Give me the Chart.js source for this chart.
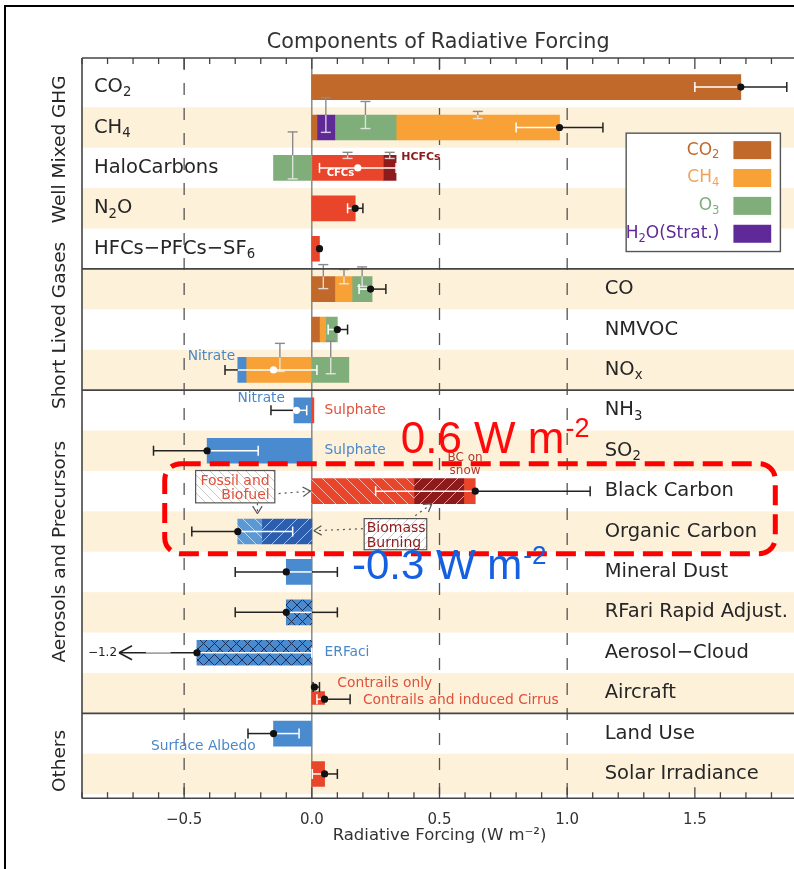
<!DOCTYPE html>
<html><head><meta charset="utf-8">
<script src="https://cdn.jsdelivr.net/npm/chart.js@4.4.1/dist/chart.umd.min.js"></script>
<style>
html,body{margin:0;padding:0;overflow:hidden;background:#fff;width:794px;height:869px}
#wrap{position:absolute;left:0;top:0;width:810px;height:869px}
#frame{position:absolute;left:4px;top:5px;width:820px;height:900px;border-left:2px solid #000;border-top:2px solid #000;pointer-events:none}
</style></head><body>
<div id="wrap"><canvas id="c" width="810" height="869" style="width:810px;height:869px"></canvas></div>
<div id="frame"></div>
<script>
// ---------------- DATA ----------------
const chartTitle = 'Components of Radiative Forcing';
const rowLabels = ['CO_2','CH_4','HaloCarbons','N_2O','HFCs\u2212PFCs\u2212SF_6','CO','NMVOC','NO_x','NH_3','SO_2',
  'Black Carbon','Organic Carbon','Mineral Dust','RFari Rapid Adjust.','Aerosol\u2212Cloud','Aircraft','Land Use','Solar Irradiance'];
const groupNames = ['Well Mixed GHG','Short Lived Gases','Aerosols and Precursors','Others'];
const groupFirstRow = [0,5,8,16];
const groupLastRow = [4,7,15,17];
const xTickAt = [-0.5,0,0.5,1.0,1.5];
const xTickLabels = ['\u22120.5','0.0','0.5','1.0','1.5'];

// component bars: rows and [start,end] in W m-2
const co2Rows = [0,1,5,6];
const co2Bars = [[0,1.68],[0,0.02],[0,0.09],[0,0.03]];
const h2oRows = [1];
const h2oBars = [[0.02,0.09]];
const o3Rows = [1,2,5,6,7];
const o3Bars = [[0.09,0.33],[-0.15,0],[0.16,0.236],[0.057,0.10],[0,0.145]];
const ch4Rows = [1,5,6,7];
const ch4Bars = [[0.33,0.97],[0.09,0.16],[0.03,0.057],[-0.255,0]];
const redRows = [2,3,4,8,17];
const redBars = [[0,0.28],[0,0.17],[0,0.03],[0,0.008],[0,0.05]];
const hcfcRows = [2];
const hcfcBars = [[0.28,0.33]];
const blueRows = [7,8,9,12,16];
const blueBars = [[-0.29,-0.255],[-0.07,0],[-0.41,0],[-0.10,0],[-0.15,0]];
const bcFossilRows = [10], bcFossilBars = [[0,0.40]];
const bcBiomassRows = [10], bcBiomassBars = [[0.40,0.595]];
const bcSnowRows = [10], bcSnowBars = [[0.595,0.64]];
const ocFossilRows = [11], ocFossilBars = [[-0.29,-0.196]];
const ocBiomassRows = [11], ocBiomassBars = [[-0.196,0]];
const erfRows = [13,14];
const erfBars = [[-0.10,0],[-0.45,0]];
const aircraftRows = [15];
const aircraftBars = [[0,0.05]];

// totals: best estimate and uncertainty range
const totalRows = [0,1,2,3,4,5,6,7,8,9,10,11,12,13,14,15,15,16,17];
const totalBest = [1.68,0.97,0.18,0.17,0.03,0.23,0.10,-0.15,-0.06,-0.41,0.64,-0.29,-0.10,-0.10,-0.45,0.01,0.05,-0.15,0.05];
const totalLow  = [1.50,0.80,0.03,0.14,0.027,0.185,0.064,-0.34,-0.16,-0.62,0.25,-0.47,-0.30,-0.30,-1.2,0.005,0.02,-0.25,0.002];
const totalHigh = [1.86,1.14,0.33,0.20,0.033,0.29,0.14,0.02,-0.02,-0.21,1.09,-0.075,0.10,0.10,0,0.03,0.15,-0.05,0.10];
const whiteDotRows = [2,7,8];

// component uncertainties
const compRows = [1,1,1,2,2,2,5,5,5,7,7];
const compAt   = [0.055,0.21,0.65,-0.075,0.14,0.305,0.045,0.126,0.197,-0.125,0.074];
const compUnc  = [0.068,0.053,0.014,0.092,0.012,0.012,0.047,0.028,0.038,0.055,0.064];

const legendLabels = ['CO_2','CH_4','O_3','H_2O(Strat.)'];

// ---------------- STYLE / LAYOUT ----------------
const FONT = "'DejaVu Sans', sans-serif";
const C = {co2:'#c0692b', ch4:'#f7a136', o3:'#7fae7b', h2o:'#5f2a97', red:'#e9452b', dred:'#8e1b1c',
  blue:'#4a8bd0', lblue:'#5a98d6', dblue:'#2c5ead', band:'#fdf1da', text:'#262626'};
const legendText = ['#c0692b','#f0a457','#7fae7b','#5f2a97'];
const legendSwatch = [C.co2, C.ch4, C.o3, C.h2o];
const dotShift = totalRows.map((r,i)=> i===15 ? -0.15 : (i===16 ? 0.15 : 0));
const groupCenter = [1.54, 5.9, 11.5, 16.68];

const ctx0 = document.getElementById('c').getContext('2d');
function hatch(base, line, dir, size, lw){
  const c = document.createElement('canvas'); c.width = c.height = size;
  const g = c.getContext('2d');
  g.fillStyle = base; g.fillRect(0,0,size,size);
  g.strokeStyle = line; g.lineWidth = lw;
  const s=(a,b,d,e)=>{g.beginPath();g.moveTo(a,b);g.lineTo(d,e);g.stroke();};
  if (dir.indexOf('\\')>=0){ s(-2,-2,size+2,size+2); s(-2,size-2,2,size+2); s(size-2,-2,size+2,2); }
  if (dir.indexOf('/')>=0){ s(-2,size+2,size+2,-2); s(-2,2,2,-2); s(size-2,size+2,size+2,size-2); }
  return ctx0.createPattern(c,'repeat');
}
const pBcFossil = hatch(C.red,'rgba(255,255,255,0.6)','\\',12,1);
const pBcBio = hatch(C.dred,'rgba(255,255,255,0.6)','/',12,1);
const pOcFossil = hatch(C.lblue,'rgba(255,255,255,0.6)','\\',12,1);
const pOcBio = hatch(C.dblue,'rgba(255,255,255,0.6)','/',12,1);
const pCross = hatch(C.blue,'#1d2f55','\\/',11,1);
const pBoxA = hatch('#ffffff','#c8c8c8','\\',9,1);
const pBoxB = hatch('#ffffff','#c8c8c8','/',9,1);

function bar(rows, ranges, color, thick, shift){
  return {type:'bar', indexAxis:'y', grouped:false, barThickness:thick||25, borderWidth:0,
    backgroundColor:color, data: rows.map((r,i)=>({y:r+(shift||0), x:ranges[i]}))};
}

function rich(ctx, text, x, y, size, color, align, weight, family){
  const segs=[]; let i=0;
  while(i<text.length){ const ch=text[i];
    if((ch==='_'||ch==='^') && i+1<text.length){ segs.push({t:text[i+1],k:ch}); i+=2; }
    else { let j=i; while(j<text.length && text[j]!=='_' && text[j]!=='^') j++; segs.push({t:text.slice(i,j),k:''}); i=j; } }
  const f = s => (weight||'normal')+' '+s+'px '+(family||FONT);
  let w=0;
  segs.forEach(s=>{ s.size = s.k ? size*0.68 : size; ctx.font=f(s.size); s.w=ctx.measureText(s.t).width; w+=s.w; });
  let cx = align==='right' ? x-w : (align==='center' ? x-w/2 : x);
  ctx.fillStyle=color; ctx.textAlign='left'; ctx.textBaseline='middle';
  segs.forEach(s=>{ ctx.font=f(s.size); const dy = s.k==='_' ? size*0.3 : (s.k==='^' ? -size*0.38 : 0);
    ctx.fillText(s.t, cx, y+dy); cx+=s.w; });
}

const drawPlugin = {
  id:'rf',
  beforeDatasetsDraw(chart){
    const {ctx, chartArea:a, scales:{x:X, y:Y}} = chart;
    ctx.save();
    ctx.fillStyle = C.band;
    for(let r=0;r<rowLabels.length;r++){ if(r%2===1){ const t=Y.getPixelForValue(r-0.5), b=Math.min(a.bottom,Y.getPixelForValue(r+0.5)); ctx.fillRect(a.left,t,a.right-a.left,b-t); } }
    ctx.strokeStyle='#555'; ctx.lineWidth=1.3; ctx.setLineDash([12,13]);
    [-0.5,0.5,1.0].forEach(v=>{ const p=X.getPixelForValue(v); ctx.beginPath(); ctx.moveTo(p,a.top); ctx.lineTo(p,a.bottom); ctx.stroke(); });
    ctx.setLineDash([]);
    ctx.strokeStyle='#777'; ctx.lineWidth=1.3;
    const z=X.getPixelForValue(0); ctx.beginPath(); ctx.moveTo(z,a.top); ctx.lineTo(z,a.bottom); ctx.stroke();
    ctx.restore();
  },
  beforeDatasetDraw(chart, args){
    if(args.meta.type!=='scatter') return;
    const {ctx, scales:{x:X, y:Y}} = chart;
    const ppu = X.getPixelForValue(1)-X.getPixelForValue(0);
    ctx.save(); ctx.lineWidth=1.4;
    const line=(x1,y1,x2,y2)=>{ctx.beginPath();ctx.moveTo(x1,y1);ctx.lineTo(x2,y2);ctx.stroke();};
    compRows.forEach((r,i)=>{
      const x=X.getPixelForValue(compAt[i]); const yc=Y.getPixelForValue(r)-12.5; const h=compUnc[i]*ppu;
      ctx.strokeStyle='#8a8a8a'; line(x,yc-h,x,yc); line(x-5,yc-h,x+5,yc-h);
      ctx.strokeStyle='rgba(236,236,236,0.85)'; line(x,yc,x,yc+h); line(x-5,yc+h,x+5,yc+h);
    });
    const metas = chart.getSortedVisibleDatasetMetas().filter(m=>m.type==='bar');
    ctx.lineWidth=1.5;
    totalRows.forEach((r,i)=>{
      const y0=Y.getPixelForValue(r+dotShift[i]);
      let left=Infinity,right=-Infinity;
      metas.forEach(m=>m.data.forEach(el=>{ const p=el.getProps(['x','y','base','height'],true);
        if(Math.abs(p.y-y0)<p.height/2){ left=Math.min(left,p.x,p.base); right=Math.max(right,p.x,p.base); } }));
      const broken = totalLow[i] < X.min;
      let loPx = broken ? X.getPixelForValue(-0.755) : X.getPixelForValue(totalLow[i]);
      const hiPx = X.getPixelForValue(totalHigh[i]);
      if(hiPx-loPx<4) return;
      const seg=(p,q,col)=>{ if(q-p<=0.2) return; ctx.strokeStyle=col; line(p,y0,q,y0); };
      if(left<=right){ seg(Math.max(loPx,left),Math.min(hiPx,right),'#fff'); seg(loPx,Math.min(hiPx,left),'#222'); seg(Math.max(loPx,right),hiPx,'#222'); }
      else seg(loPx,hiPx,'#222');
      const cap=p=>{ ctx.strokeStyle=(p>=left-0.6&&p<=right+0.6)?'#fff':'#222'; line(p,y0-5,p,y0+5); };
      if(broken){
        ctx.strokeStyle='#bbb'; line(X.getPixelForValue(-0.65),y0,X.getPixelForValue(-0.553),y0);
        ctx.strokeStyle='#222'; line(loPx+13,y0-7,loPx,y0); line(loPx,y0,loPx+13,y0+7);
        rich(ctx,'\u22121.2',loPx-2,y0,12,'#222','right');
      } else cap(loPx);
      cap(hiPx);
    });
    ctx.restore();
  },
  afterDatasetsDraw(chart){
    const {ctx, chartArea:a, scales:{x:X, y:Y}} = chart;
    const px=v=>X.getPixelForValue(v), py=v=>Y.getPixelForValue(v);
    ctx.save();
    const line=(x1,y1,x2,y2)=>{ctx.beginPath();ctx.moveTo(x1,y1);ctx.lineTo(x2,y2);ctx.stroke();};
    ctx.strokeStyle='#444'; ctx.lineWidth=1.6;
    groupLastRow.slice(0,-1).forEach(r=>{ const y=py(r+0.5); line(a.left,y,a.right,y); });
    line(a.left,a.top,a.right,a.top); line(a.left,a.bottom,a.right,a.bottom); line(a.left,a.top,a.left,a.bottom);
    ctx.lineWidth=1.3;
    X.ticks.forEach(t=>{ const v=t.value; const major=Math.abs(v*2-Math.round(v*2))<1e-6; const len=major?11:6; const p=px(v);
      line(p,a.top,p,a.top+len); line(p,a.bottom,p,a.bottom-len); });
    rich(ctx,chartTitle,px(0.495),a.top-15,20.7,'#333','center');
    rowLabels.forEach((t,r)=>{ if(r<=4) rich(ctx,t,px(-0.853),py(r),19.5,C.text,'left'); else rich(ctx,t,px(1.147),py(r),19.5,C.text,'left'); });
    groupNames.forEach((g,k)=>{ ctx.save(); ctx.translate(a.left-22, py(groupCenter[k])); ctx.rotate(-Math.PI/2);
      rich(ctx,g,0,0,18.5,C.text,'center'); ctx.restore(); });
    const lx1=px(1.231), lx2=px(1.835), ly1=py(1.14), ly2=py(4.07);
    ctx.fillStyle='#fff'; ctx.fillRect(lx1,ly1,lx2-lx1,ly2-ly1);
    ctx.strokeStyle='#555'; ctx.lineWidth=1.4; ctx.strokeRect(lx1,ly1,lx2-lx1,ly2-ly1);
    legendLabels.forEach((t,k)=>{ const yy=py(1.56+k*0.69);
      rich(ctx,t,px(1.596),yy,17,legendText[k],'right');
      ctx.fillStyle=legendSwatch[k]; ctx.fillRect(px(1.651),yy-9,px(1.799)-px(1.651),18); });
    const S=13.8;
    rich(ctx,'Nitrate',px(-0.30),py(6.67),S,'#4a88c8','right');
    rich(ctx,'Nitrate',px(-0.105),py(7.71),S,'#4a88c8','right');
    rich(ctx,'Sulphate',px(0.05),py(8),S,'#e0503a','left');
    rich(ctx,'Sulphate',px(0.05),py(9),S,'#4a88c8','left');
    rich(ctx,'HCFCs',px(0.35),py(1.74),11,C.dred,'left','bold');
    rich(ctx,'CFCs',px(0.058),py(2.13),10,'#fff','left','bold');
    rich(ctx,'BC on',px(0.6),py(9.17),12,'#b03a2e','center');
    rich(ctx,'snow',px(0.6),py(9.49),12,'#b03a2e','center');
    rich(ctx,'ERFaci',px(0.05),py(14),S,'#4a88c8','left');
    rich(ctx,'Contrails only',px(0.10),py(14.75),S,'#e0503a','left');
    rich(ctx,'Contrails and induced Cirrus',px(0.20),py(15.19),S,'#e0503a','left');
    rich(ctx,'Surface Albedo',px(-0.63),py(16.31),S,'#4a88c8','left');
    const box=(x1,x2,r1,r2,pat)=>{ ctx.fillStyle=pat; ctx.fillRect(px(x1),py(r1),px(x2)-px(x1),py(r2)-py(r1));
      ctx.strokeStyle='#555'; ctx.lineWidth=1.2; ctx.strokeRect(px(x1),py(r1),px(x2)-px(x1),py(r2)-py(r1)); };
    box(-0.455,-0.145,9.49,10.29,pBoxA);
    rich(ctx,'Fossil and',px(-0.165),py(9.77),14,'#e0503a','right');
    rich(ctx,'Biofuel',px(-0.165),py(10.11),14,'#e0503a','right');
    box(0.205,0.45,10.68,11.45,pBoxB);
    rich(ctx,'Biomass',px(0.215),py(10.93),14,C.dred,'left');
    rich(ctx,'Burning',px(0.215),py(11.30),14,C.dred,'left');
    const arrow=(x1,r1,x2,r2)=>{ const X1=px(x1),Y1=py(r1),X2=px(x2),Y2=py(r2);
      ctx.strokeStyle='#555'; ctx.lineWidth=1.2; ctx.setLineDash([2,4]); line(X1,Y1,X2,Y2); ctx.setLineDash([]);
      const ang=Math.atan2(Y2-Y1,X2-X1), L=9, w=0.55;
      line(X2,Y2,X2-L*Math.cos(ang-w),Y2-L*Math.sin(ang-w)); line(X2,Y2,X2-L*Math.cos(ang+w),Y2-L*Math.sin(ang+w)); };
    arrow(-0.13,10.06,-0.005,10.0);
    arrow(-0.213,10.30,-0.213,10.56);
    arrow(0.2,10.93,0.008,10.98);
    arrow(0.405,10.61,0.47,10.31);
    ctx.restore();
  },
  afterDraw(chart){
    const {ctx, scales:{x:X, y:Y}} = chart;
    const px=v=>X.getPixelForValue(v), py=v=>Y.getPixelForValue(v);
    ctx.save();
    const x1=px(-0.576), x2=px(1.815), y1=py(9.32), y2=py(11.55);
    ctx.strokeStyle='#ff0000'; ctx.lineWidth=5; ctx.setLineDash([20,9]);
    ctx.beginPath(); ctx.roundRect(x1,y1,x2-x1,y2-y1,16); ctx.stroke(); ctx.setLineDash([]);
    const big=(t,sup,x,yb,size,col)=>{ ctx.font=size+"px 'Liberation Sans', Arial, sans-serif"; ctx.fillStyle=col;
      ctx.textAlign='left'; ctx.textBaseline='alphabetic'; ctx.fillText(t,x,yb); const w=ctx.measureText(t).width;
      ctx.font=Math.round(size*0.62)+"px 'Liberation Sans', Arial, sans-serif"; ctx.fillText(sup,x+w+1,yb-size*0.36); };
    big('0.6 W m','-2',px(0.348),py(9.05),44,'#ff0a0a');
    big('-0.3 W m','-2',px(0.157),py(12.17),42,'#1560e0');
    ctx.restore();
  }
};

const datasets = [
  bar(co2Rows,co2Bars,C.co2),
  bar(h2oRows,h2oBars,C.h2o),
  bar(o3Rows,o3Bars,C.o3),
  bar(ch4Rows,ch4Bars,C.ch4),
  bar(redRows,redBars,C.red),
  bar(hcfcRows,hcfcBars,C.dred),
  bar(blueRows,blueBars,C.blue),
  bar(bcFossilRows,bcFossilBars,pBcFossil),
  bar(bcBiomassRows,bcBiomassBars,pBcBio),
  bar(bcSnowRows,bcSnowBars,C.red),
  bar(ocFossilRows,ocFossilBars,pOcFossil),
  bar(ocBiomassRows,ocBiomassBars,pOcBio),
  bar(erfRows,erfBars,pCross),
  bar(aircraftRows,aircraftBars,C.red,13,0.12),
  {type:'scatter', order:-1, data: totalRows.map((r,i)=>({x:totalBest[i], y:r+dotShift[i]})),
    pointRadius:3.6, pointHoverRadius:3.6, pointBorderWidth:0,
    pointBackgroundColor: totalRows.map((r,i)=> whiteDotRows.includes(r)?'#fff':'#111'),
    pointBorderColor: totalRows.map((r,i)=> whiteDotRows.includes(r)?'#fff':'#111')}
];

new Chart(document.getElementById('c'), {
  type:'bar',
  data:{datasets},
  plugins:[drawPlugin],
  options:{
    responsive:false, animation:false, devicePixelRatio:1,
    layout:{padding:{left:82,right:0,top:58,bottom:23}},
    plugins:{ legend:{display:false}, tooltip:{enabled:false}, title:{display:false} },
    scales:{
      x:{type:'linear', min:-0.9, max:1.9, position:'bottom', offset:false,
        grid:{display:false, drawTicks:false, offset:false}, border:{display:false},
        ticks:{stepSize:0.1, autoSkip:false, maxRotation:0, padding:13, color:'#333', font:{family:FONT,size:15},
          callback:(v)=>{ const k=xTickAt.findIndex(t=>Math.abs(t-v)<1e-6); return k>=0?xTickLabels[k]:''; }},
        title:{display:true, text:'Radiative Forcing (W m\u207B\u00B2)', color:'#333', font:{family:FONT,size:16.5}, padding:{top:-16,bottom:0}}
      },
      y:{type:'linear', min:-0.72, max:17.6, reverse:true, display:false, offset:false, grid:{offset:false}}
    }
  }
});
</script>
</body></html>
